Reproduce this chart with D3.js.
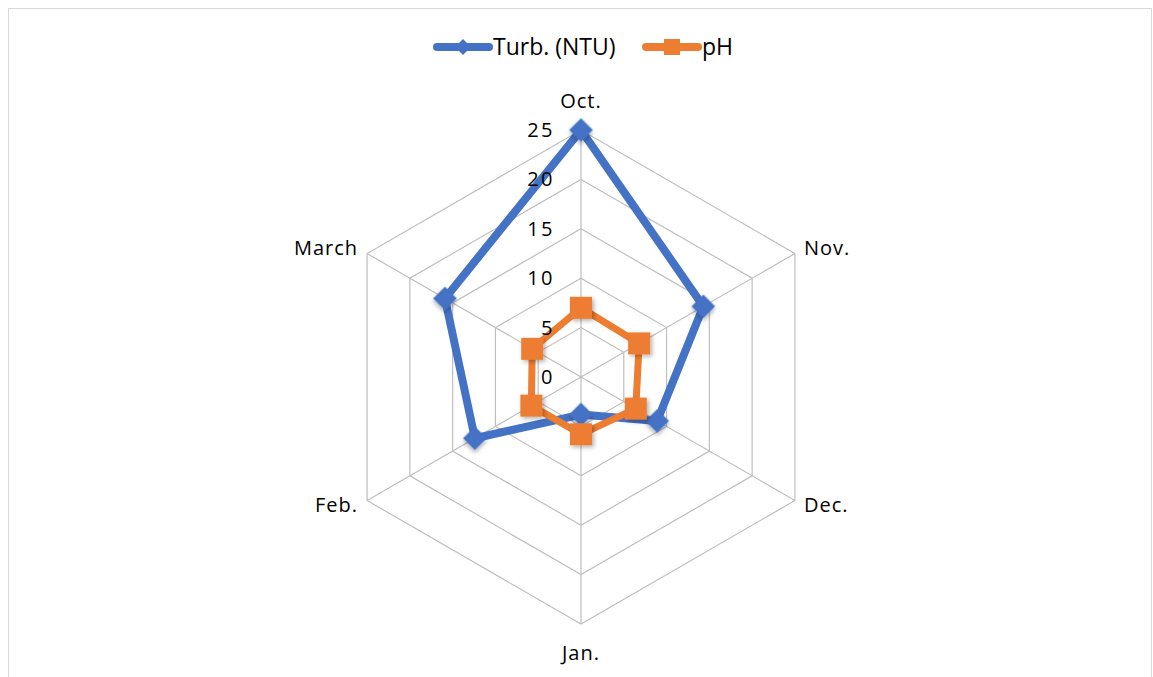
<!DOCTYPE html>
<html><head><meta charset="utf-8">
<script src="https://cdn.jsdelivr.net/npm/d3@7"></script>
<style>body{margin:0;background:#fff;font-family:"Open Sans",Lato,sans-serif;}</style>
</head><body>
<svg id="c" width="1153" height="677"></svg>
<script>
const categories = ["Oct.", "Nov.", "Dec.", "Jan.", "Feb.", "March"];
const turbidity = [25, 14.3, 8.9, 3.8, 12.4, 15.9];
const ph = [7.0, 6.8, 6.4, 5.8, 5.8, 5.7];
const ticks = [0, 5, 10, 15, 20, 25];
const seriesNames = ["Turb. (NTU)", "pH"];
const colors = ["#4472C4", "#ED7D31"];

const svg = d3.select("#c");
svg.append("rect").attr("x",8.5).attr("y",8.5).attr("width",1143).attr("height",690)
  .attr("fill","#fff").attr("stroke","#D9D9D9");
const cx = 581, cy = 377;
const r = d3.scaleLinear().domain([0,25]).range([0,247]);
const ang = d3.scalePoint().domain(categories).range([0, 2*Math.PI*5/6]);
const pt = (c, v) => { const a = ang(c); return [cx + r(v)*Math.sin(a), cy - r(v)*Math.cos(a)]; };
const FS = 20;

const g = svg.append("g");
ticks.slice(1).forEach(t => {
  g.append("polygon").attr("points", categories.map(c => pt(c,t).join(",")).join(" "))
    .attr("fill","none").attr("stroke","#BFBFBF").attr("stroke-width",1.2);
});
categories.forEach(c => {
  const p = pt(c, 25);
  g.append("line").attr("x1",cx).attr("y1",cy).attr("x2",p[0]).attr("y2",p[1])
    .attr("stroke","#BFBFBF").attr("stroke-width",1.2);
});
const labelPos = {"Oct.":[0,-29,"middle"], "Nov.":[9,-6,"start"], "Dec.":[9,4,"start"],
  "Jan.":[0,29,"middle"], "Feb.":[-9,4,"end"], "March":[-9,-6,"end"]};
categories.forEach(c => {
  const p = pt(c, 25), o = labelPos[c];
  g.append("text").attr("x", p[0]+o[0]).attr("y", p[1]+o[1]+7).attr("text-anchor",o[2])
    .attr("font-size",FS).attr("letter-spacing",1).attr("fill","#000").text(c);
});

const defs = svg.append("defs");
const f = defs.append("filter").attr("id","sh").attr("x","-50%").attr("y","-50%").attr("width","200%").attr("height","200%");
f.append("feDropShadow").attr("dx",2).attr("dy",2).attr("stdDeviation",2).attr("flood-color","#000").attr("flood-opacity",0.3);

const line = d3.line().curve(d3.curveLinearClosed);
function drawSeries(vals, color, isDiamond) {
  const pts = categories.map((c,i) => pt(c, vals[i]));
  g.append("path").attr("d", line(pts)).attr("fill","none").attr("stroke",color)
    .attr("stroke-width", isDiamond ? 8 : 7).attr("stroke-linejoin","round");
  pts.forEach(p => {
    if (isDiamond) {
      g.append("path").attr("d", d3.symbol().type(d3.symbolSquare).size(280)())
        .attr("transform", `translate(${p[0]},${p[1]}) rotate(45)`).attr("fill",color).attr("filter","url(#sh)");
    } else {
      g.append("rect").attr("x",p[0]-11).attr("y",p[1]-11).attr("width",22).attr("height",22)
        .attr("fill",color).attr("filter","url(#sh)");
    }
  });
}
drawSeries(turbidity, colors[0], true);
drawSeries(ph, colors[1], false);

ticks.forEach(t => {
  g.append("text").attr("x", cx - 26).attr("y", cy - r(t) + 7).attr("text-anchor","end")
    .attr("font-size",20).attr("fill","#000").attr("letter-spacing",2.5).text(t);
});

// legend
const leg = svg.append("g");
[[433, 0], [642, 1]].forEach(([x, i]) => {
  leg.append("line").attr("x1",x+4).attr("x2",x+56).attr("y1",47).attr("y2",47)
    .attr("stroke",colors[i]).attr("stroke-width",8).attr("stroke-linecap","round");
  if (i === 0) {
    leg.append("path").attr("d", d3.symbol().type(d3.symbolSquare).size(130)())
      .attr("transform", `translate(${x+30},47) rotate(45)`).attr("fill",colors[i]);
  } else {
    leg.append("rect").attr("x",x+22).attr("y",39).attr("width",16).attr("height",16).attr("fill",colors[i]);
  }
  leg.append("text").attr("x", x+60).attr("y", 55).attr("font-size",23).attr("fill","#000").text(seriesNames[i]);
});
</script>
</body></html>
